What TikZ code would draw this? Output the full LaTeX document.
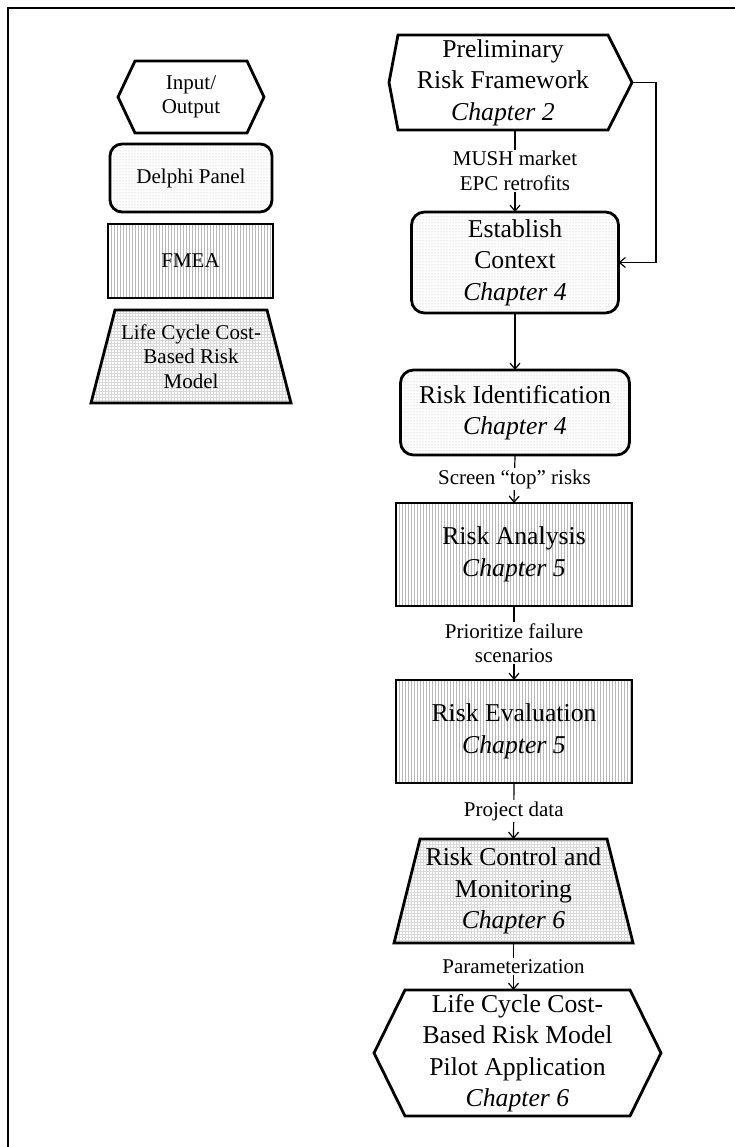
\documentclass[tikz,border=0pt]{standalone}
\usepackage{fontspec}
\setmainfont{Liberation Serif}
\usetikzlibrary{arrows.meta,patterns,calc}
\pgfdeclarelayer{background}
\pgfsetlayers{background,main}

\tikzset{
  big/.style={font=\fontsize{25.7}{31.5}\selectfont},
  small/.style={font=\fontsize{21}{24.5}\selectfont},
  box/.style={align=center, inner sep=0pt, outer sep=0pt},
  border/.style={line width=2.8pt, line join=miter},
  dotfill/.style={pattern=dots, pattern color=gray!60},
  linefill/.style={pattern=vertical lines, pattern color=gray!55},
  gridfill/.style={pattern=grid, pattern color=gray!30},
  conn/.style={line width=1.2pt, -{Straight Barb[length=6pt,width=10pt,line width=1.2pt]}},
  lbl/.style={small, fill=white, align=center, inner sep=1.5pt},
}

\begin{document}
\begin{tikzpicture}[x=1pt,y=-1pt]
\useasboundingbox (0,0) rectangle (735,1147);

% page frame (left and top edges)
\draw[line width=2.7pt] (8,1152) -- (8,8) -- (740,8);

% ---------- legend column ----------
\node[box, small, minimum width=146pt, minimum height=72pt] (io) at (191,97) {Input/\\Output};
\node[box, small, draw, border, dotfill, rounded corners=12pt,
      minimum width=162pt, minimum height=68pt] (delphi) at (191,178) {Delphi Panel};
\node[box, small, draw, border, linefill,
      minimum width=165pt, minimum height=74pt] (fmea) at (190.5,261) {FMEA};
\node[box, small, minimum width=200pt, minimum height=93pt] (lccleg) at (191,356.5)
      {Life Cycle Cost-\\Based Risk\\Model};

% ---------- process column ----------
\node[box, big, minimum width=258pt, minimum height=95pt] (prf) at (503,82.5)
      {Preliminary\\Risk Framework\\\textit{Chapter 2}};
\node[box, big, draw, border, dotfill, rounded corners=13pt,
      minimum width=207pt, minimum height=101pt] (est) at (515,262.5)
      {Establish\\Context\\\textit{Chapter 4}};
\node[box, big, draw, border, dotfill, rounded corners=13pt,
      minimum width=229pt, minimum height=85pt] (rid) at (515,412.5)
      {Risk Identification\\\textit{Chapter 4}};
\node[box, big, draw, border, linefill,
      minimum width=236pt, minimum height=103pt] (ran) at (514,554.5)
      {Risk Analysis\\\textit{Chapter 5}};
\node[box, big, draw, border, linefill,
      minimum width=236pt, minimum height=103pt] (rev) at (514,731.5)
      {Risk Evaluation\\\textit{Chapter 5}};
\node[box, big, minimum width=239pt, minimum height=104pt] (rcm) at (513.5,891)
      {Risk Control and\\Monitoring\\\textit{Chapter 6}};
\node[box, big, minimum width=287pt, minimum height=126pt] (lcm) at (517.5,1053)
      {Life Cycle Cost-\\Based Risk Model\\Pilot Application\\\textit{Chapter 6}};

% ---------- outlines of hexagons and trapezoids ----------
\begin{pgfonlayer}{background}
\draw[border] (io.west) -- ([xshift=17pt]io.north west) -- ([xshift=-17pt]io.north east)
  -- (io.east) -- ([xshift=-17pt]io.south east) -- ([xshift=17pt]io.south west) -- cycle;
\draw[border, gridfill] (lccleg.south west) -- ([xshift=24pt]lccleg.north west)
  -- ([xshift=-24pt]lccleg.north east) -- (lccleg.south east) -- cycle;
\draw[border] ([xshift=15pt]prf.west) -- ([xshift=24pt]prf.north west) -- ([xshift=-24pt]prf.north east)
  -- (prf.east) -- ([xshift=-24pt]prf.south east) -- ([xshift=24pt]prf.south west) -- cycle;
\draw[border, gridfill] (rcm.south west) -- ([xshift=26pt]rcm.north west)
  -- ([xshift=-26pt]rcm.north east) -- (rcm.south east) -- cycle;
\draw[border] (lcm.west) -- ([xshift=31pt]lcm.north west) -- ([xshift=-31pt]lcm.north east)
  -- (lcm.east) -- ([xshift=-31pt]lcm.south east) -- ([xshift=31pt]lcm.south west) -- cycle;
\end{pgfonlayer}

% ---------- connectors ----------
\draw[conn] (prf.south -| est.north) -- node[lbl]{MUSH market\\EPC retrofits} (est.north);
\draw[conn] (prf.east) -- ++(24,0) |- (est.east);
\draw[conn] (est.south) -- (rid.north);
\draw[conn] (rid.south) -- node[lbl]{Screen ``top'' risks} (ran.north);
\draw[conn] (ran.south) -- node[lbl]{Prioritize failure\\scenarios} (rev.north);
\draw[conn] (rev.south) -- node[lbl]{Project data} (rcm.north);
\draw[conn] (rcm.south) -- node[lbl]{Parameterization} (rcm.south |- lcm.north);
\end{tikzpicture}
\end{document}
